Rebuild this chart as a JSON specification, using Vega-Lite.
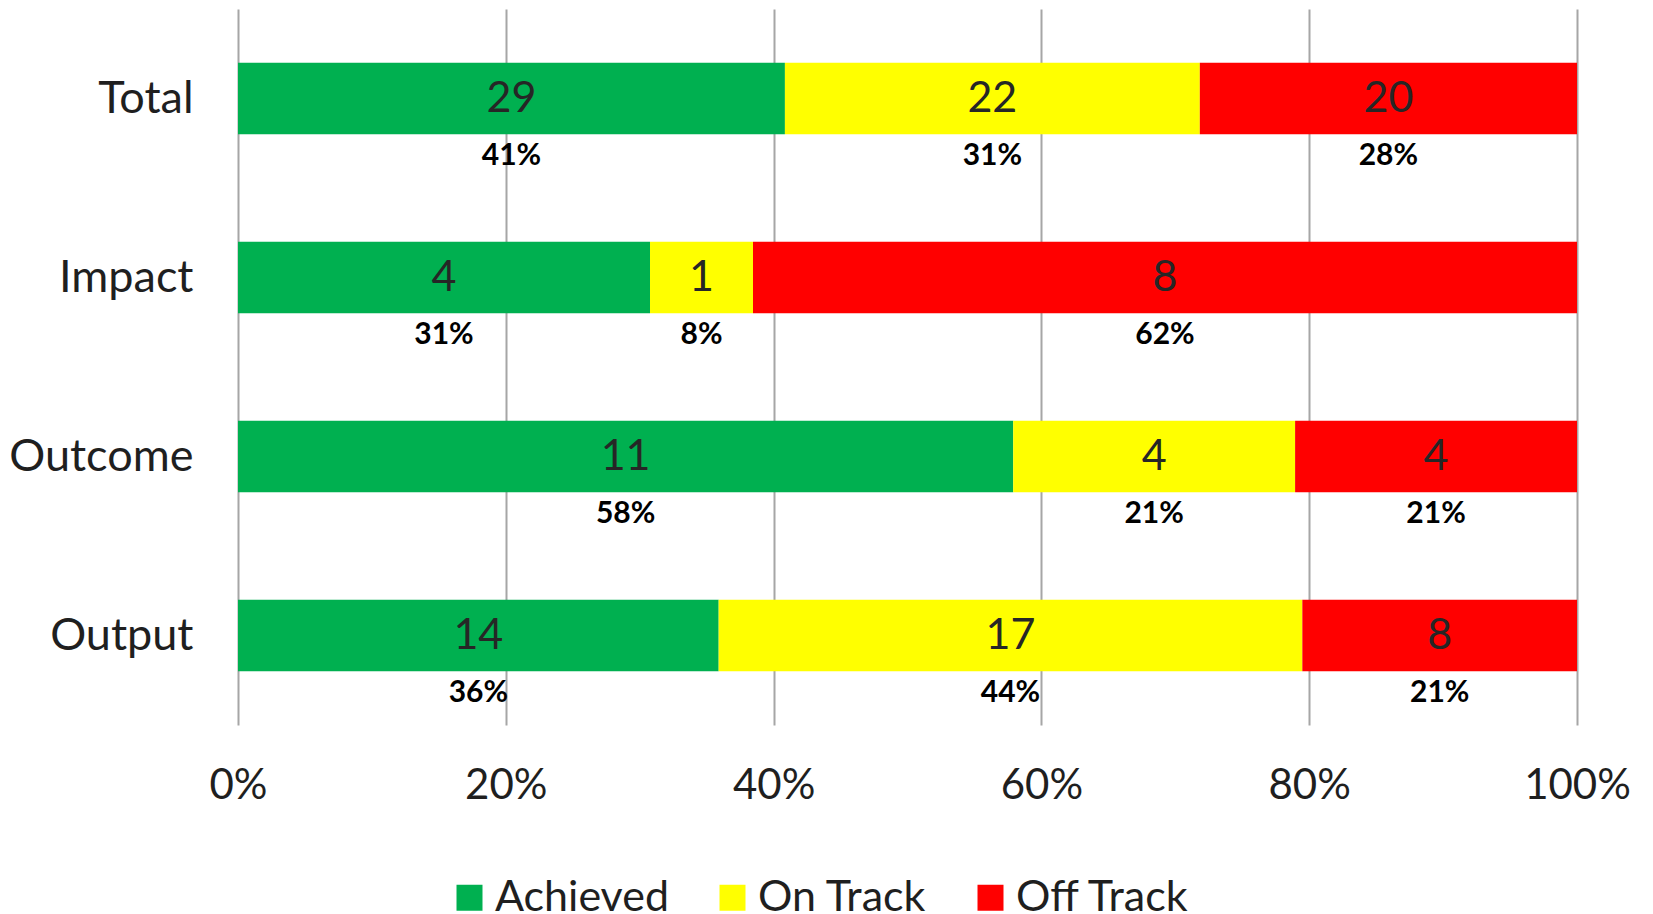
{
  "$schema": "https://vega.github.io/schema/vega-lite/v6.json",
  "width": 1339,
  "height": 716,
  "autosize": {"type": "none"},
  "padding": {"left": 238, "top": 9, "right": 76, "bottom": 189},
  "background": "white",
  "config": {"view": {"stroke": null}, "font": "Lato"},
  "data": {
    "values": [
      {"category": "Total", "status": "Achieved", "order": 1, "count": 29, "pct": "41%"},
      {"category": "Total", "status": "On Track", "order": 2, "count": 22, "pct": "31%"},
      {"category": "Total", "status": "Off Track", "order": 3, "count": 20, "pct": "28%"},
      {"category": "Impact", "status": "Achieved", "order": 1, "count": 4, "pct": "31%"},
      {"category": "Impact", "status": "On Track", "order": 2, "count": 1, "pct": "8%"},
      {"category": "Impact", "status": "Off Track", "order": 3, "count": 8, "pct": "62%"},
      {"category": "Outcome", "status": "Achieved", "order": 1, "count": 11, "pct": "58%"},
      {"category": "Outcome", "status": "On Track", "order": 2, "count": 4, "pct": "21%"},
      {"category": "Outcome", "status": "Off Track", "order": 3, "count": 4, "pct": "21%"},
      {"category": "Output", "status": "Achieved", "order": 1, "count": 14, "pct": "36%"},
      {"category": "Output", "status": "On Track", "order": 2, "count": 17, "pct": "44%"},
      {"category": "Output", "status": "Off Track", "order": 3, "count": 8, "pct": "21%"}
    ]
  },
  "encoding": {
    "y": {
      "field": "category",
      "type": "nominal",
      "sort": ["Total", "Impact", "Outcome", "Output"],
      "scale": {"paddingInner": 0.6, "paddingOuter": 0.3},
      "axis": {"title": null, "domain": false, "ticks": false, "grid": false, "labelFontSize": 45, "labelPadding": 45, "labelColor": "#1f1f1f", "labelLimit": 400}
    },
    "order": {"field": "order", "type": "quantitative"}
  },
  "layer": [
    {
      "mark": {"type": "bar"},
      "encoding": {
        "x": {
          "field": "count",
          "type": "quantitative",
          "stack": "normalize",
          "scale": {"domain": [0, 1], "nice": false},
          "axis": {"title": null, "format": ".0%", "values": [0, 0.2, 0.4, 0.6, 0.8, 1], "grid": true, "gridColor": "#a6a6a6", "gridWidth": 2, "domain": false, "ticks": false, "labelFontSize": 42, "labelPadding": 60, "labelBaseline": "middle", "labelFlush": false, "labelOverlap": false, "labelBound": false, "labelColor": "#1f1f1f"}
        },
        "color": {
          "field": "status",
          "type": "nominal",
          "scale": {"domain": ["Achieved", "On Track", "Off Track"], "range": ["#00B050", "#FFFF00", "#FF0000"]},
          "legend": {"orient": "none", "legendX": 210, "legendY": 867, "direction": "horizontal", "title": null, "symbolType": "square", "symbolSize": 676, "symbolStrokeWidth": 0, "symbolOpacity": 1, "labelFontSize": 43, "labelOffset": 4, "columnPadding": 42, "labelColor": "#1f1f1f", "padding": 0, "labelBaseline": "middle", "labelLimit": 500}
        }
      }
    },
    {
      "mark": {"type": "text", "fontSize": 43, "color": "#262626", "baseline": "middle", "align": "center"},
      "encoding": {
        "x": {"field": "count", "type": "quantitative", "stack": "normalize", "bandPosition": 0.5},
        "text": {"field": "count", "type": "quantitative"}
      }
    },
    {
      "mark": {"type": "text", "fontSize": 30, "fontWeight": "bold", "color": "#000000", "baseline": "middle", "align": "center", "dy": 57},
      "encoding": {
        "x": {"field": "count", "type": "quantitative", "stack": "normalize", "bandPosition": 0.5},
        "text": {"field": "pct", "type": "nominal"}
      }
    }
  ]
}
